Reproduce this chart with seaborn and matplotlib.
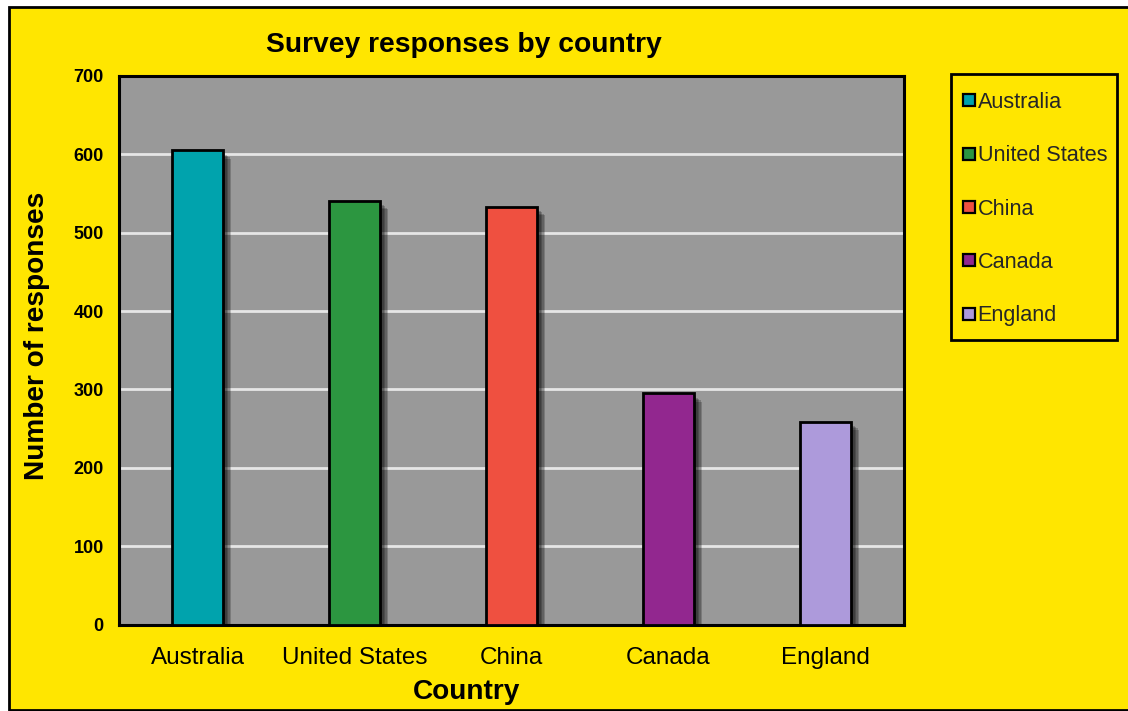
import matplotlib
matplotlib.use("Agg")
import matplotlib.pyplot as plt
import matplotlib.patheffects as pe
from matplotlib.patches import Rectangle
from matplotlib.lines import Line2D
import seaborn as sns
import pandas as pd

countries = ["Australia", "United States", "China", "Canada", "England"]
responses = [605, 541, 533, 295, 259]
bar_colors = ["#00A3AD", "#2C9640", "#EF5040", "#92278F", "#AD9ADB"]
y_ticks = [0, 100, 200, 300, 400, 500, 600, 700]

W, H = 1128, 711
YELLOW = "#FFE600"
PLOT_BG = "#999999"

sns.set_theme(style="white")
plt.rcParams["font.family"] = ["Liberation Sans", "DejaVu Sans"]

fig = plt.figure(figsize=(W / 100, H / 100), dpi=100)
fig.patch.set_facecolor("white")

# outer chart panel with black border
fig.patches.append(Rectangle((9 / W, 1 / H), 1.05, (H - 6.5) / H - 1 / H,
                             transform=fig.transFigure, facecolor=YELLOW,
                             edgecolor="black", linewidth=2.0, zorder=-10))

def px_box(x0, y0, x1, y1):
    return [x0 / W, 1 - y1 / H, (x1 - x0) / W, (y1 - y0) / H]

ax = fig.add_axes(px_box(119, 76, 904, 624.5))
ax.set_facecolor(PLOT_BG)

df = pd.DataFrame({"Country": countries, "Responses": responses})
sns.barplot(data=df, x="Country", y="Responses", hue="Country",
            palette=bar_colors, width=0.32, edgecolor="black",
            linewidth=2.0, saturation=1, legend=False, ax=ax, zorder=3)

# soft drop shadow to the lower right of each bar
shadow = [pe.SimplePatchShadow(offset=(o, -o), shadow_rgbFace="black", alpha=0.2)
          for o in (2.0, 3.0, 4.0, 5.0, 6.0)] + [pe.Normal()]
for bar in ax.patches:
    bar.set_path_effects(shadow)

ax.set_ylim(0, 700)
ax.set_xlim(-0.5, len(countries) - 0.5)
ax.set_yticks(y_ticks)
ax.yaxis.grid(True, color="#E6E6E6", linewidth=2.0)
ax.xaxis.grid(False)
ax.set_axisbelow(True)
for s in ax.spines.values():
    s.set_visible(True)
    s.set_color("black")
    s.set_linewidth(2.2)

ax.tick_params(axis="y", length=0, pad=11, labelsize=13, labelcolor="black")
ax.tick_params(axis="x", length=0, pad=16, labelsize=17.5, labelcolor="black")
for t in ax.get_yticklabels():
    t.set_fontweight("bold")
ax.set_xlabel("")
ax.set_ylabel("")

fig.text(464 / W, 1 - 45 / H, "Survey responses by country", ha="center",
         va="center", fontsize=20.3, fontweight="bold", color="black")
fig.text(467 / W, 1 - 692 / H, "Country", ha="center", va="center",
         fontsize=20.2, fontweight="bold", color="black")
fig.text(37 / W, 1 - 336 / H, "Number of responses", ha="center", va="center",
         rotation=90, fontsize=20.2, fontweight="bold", color="black")

# legend frame and entries
fig.patches.append(Rectangle(((951) / W, 1 - 340 / H), (1117 - 951) / W,
                             (340 - 74) / H, transform=fig.transFigure,
                             facecolor="none", edgecolor="black",
                             linewidth=2.0, zorder=5))
handles = [Line2D([], [], linestyle="none", marker="s", markersize=8,
                  markerfacecolor=c, markeredgecolor="black",
                  markeredgewidth=1.6) for c in bar_colors]
fig.legend(handles, countries, loc="upper left",
           bbox_to_anchor=(962 / W, 1 - 92 / H), frameon=False,
           fontsize=15.6, handlelength=0.6, handletextpad=0.12,
           labelspacing=1.49, borderpad=0, borderaxespad=0)

fig.savefig("out.png", dpi=100, facecolor=fig.get_facecolor())
